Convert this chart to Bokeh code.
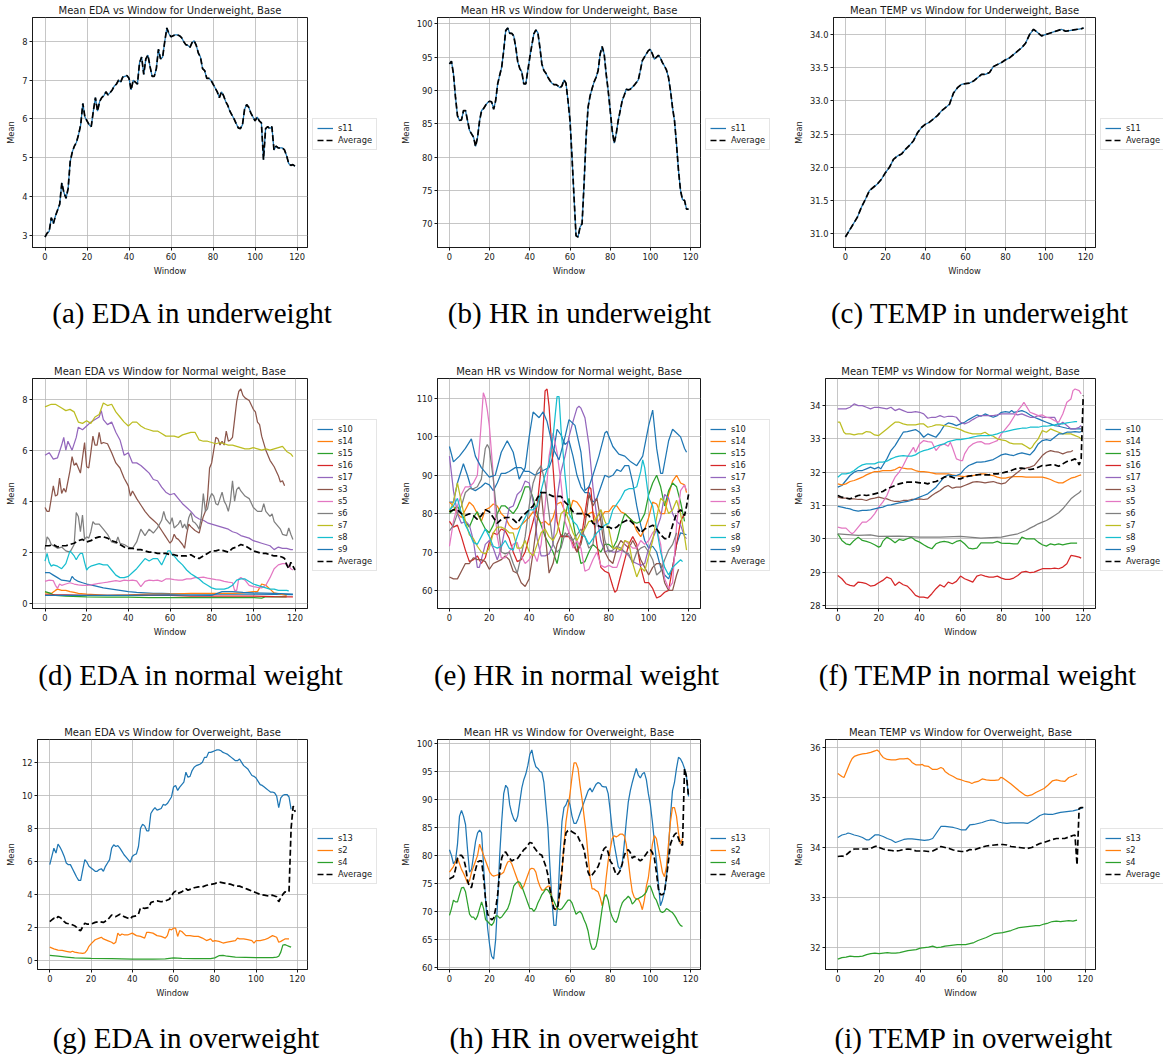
from bokeh.plotting import figure
from bokeh.models import Legend, LegendItem, Range1d, FixedTicker, NumeralTickFormatter, Div
from bokeh.layouts import row, column
from bokeh.embed import file_html
from bokeh.resources import INLINE

TAB10 = ["#1f77b4", "#ff7f0e", "#2ca02c", "#d62728", "#9467bd",
         "#8c564b", "#e377c2", "#7f7f7f", "#bcbd22", "#17becf"]

X_TICKS = [0, 20, 40, 60, 80, 100, 120]
UNDER_SUBJECTS = ["s11"]
NORMAL_SUBJECTS = ["s10", "s14", "s15", "s16", "s17", "s3", "s5", "s6", "s7", "s8", "s9"]
OVER_SUBJECTS = ["s13", "s2", "s4"]

# ---------------- Underweight (s11) ----------------
a_s11 = [2.95, 3.05, 3.1, 3.45, 3.3, 3.5, 3.65, 3.8, 4.35, 4.1,
         3.95, 4.2, 4.9, 5.15, 5.3, 5.4, 5.6, 5.85, 6.4, 6.05,
         5.95, 5.85, 5.8, 6.2, 6.55, 6.2, 6.45, 6.55, 6.6, 6.7,
         6.62, 6.68, 6.75, 6.85, 6.9, 7.0, 6.95, 7.08, 7.1, 7.12,
         7.05, 6.75, 7.0, 6.95, 6.9, 7.45, 7.6, 7.15, 7.55, 7.65,
         7.35, 7.1, 7.1, 7.3, 7.8, 7.55, 7.6, 8.0, 8.35, 8.2,
         8.12, 8.15, 8.17, 8.17, 8.15, 8.1, 8.0, 7.92, 7.9, 7.85,
         7.97, 8.02, 7.9, 7.7, 7.6, 7.3, 7.25, 7.05, 7.05, 7.0,
         6.9, 6.8, 6.7, 6.55, 6.7, 6.6, 6.45, 6.35, 6.2, 6.1,
         6.0, 5.88, 5.77, 5.75, 5.85, 6.25, 6.37, 6.3, 6.15, 6.05,
         5.95, 6.05, 5.95, 5.9, 4.95, 5.75, 5.8, 5.75, 5.8, 5.2,
         5.3, 5.25, 5.25, 5.25, 5.2, 5.05, 4.85, 4.8, 4.82, 4.78]

b_s11 = [94.0, 94.4, 92.5, 89.0, 86.2, 85.5, 85.6, 87.0, 87.0, 85.5,
         84.0, 83.5, 83.0, 81.6, 83.0, 85.5, 87.0, 87.3, 87.8, 88.2,
         88.4, 88.3, 87.2, 88.5, 91.0, 92.3, 93.5, 96.0, 99.0, 99.4,
         98.6, 98.6, 98.2, 96.5, 94.3, 93.3, 92.8, 91.0, 91.0, 93.0,
         95.0, 96.8, 98.5, 99.1, 98.7, 96.5, 94.0, 93.0, 92.6, 92.0,
         91.5, 91.1, 90.9, 90.9, 90.7, 90.4, 90.7, 91.6, 91.1, 88.5,
         85.5, 80.0, 74.0, 68.2, 68.0, 69.5, 70.0, 76.0, 83.0, 87.5,
         89.2, 90.3, 91.3, 92.0, 93.0, 95.5, 96.6, 95.5, 92.5, 90.0,
         87.0, 84.0, 82.1, 83.5, 85.5, 87.0, 88.5, 89.3, 90.2, 90.1,
         90.2, 90.5, 90.8, 91.2, 91.6, 93.0, 94.5, 95.0, 95.5, 96.0,
         96.2, 95.5, 94.7, 95.0, 95.3, 94.9, 94.2, 93.7, 93.1, 92.0,
         90.0, 87.5, 85.5, 82.0, 78.0, 75.0, 73.6, 73.5, 72.2, 72.2]

c_s11 = [(0, 30.95), (2, 31.05), (4, 31.15), (6, 31.25), (8, 31.4), (10, 31.52), (12, 31.65),
         (14, 31.7), (16, 31.75), (18, 31.82), (20, 31.92), (22, 32.0), (24, 32.12), (26, 32.17),
         (28, 32.2), (30, 32.27), (32, 32.33), (34, 32.4), (36, 32.52), (38, 32.6), (40, 32.65),
         (42, 32.68), (44, 32.73), (46, 32.78), (48, 32.85), (50, 32.9), (52, 32.95), (54, 33.12),
         (56, 33.2), (58, 33.25), (60, 33.26), (62, 33.27), (64, 33.3), (66, 33.35), (68, 33.4),
         (70, 33.4), (72, 33.43), (74, 33.52), (76, 33.55), (78, 33.58), (80, 33.62), (82, 33.65),
         (84, 33.7), (86, 33.75), (88, 33.8), (90, 33.87), (92, 34.0), (94, 34.08), (96, 34.03),
         (98, 33.98), (100, 34.0), (102, 34.02), (104, 34.04), (106, 34.06), (108, 34.08),
         (110, 34.05), (112, 34.06), (114, 34.07), (116, 34.08), (118, 34.09), (119, 34.1)]

# ---------------- Normal weight: EDA ----------------
d_s10 = [(0, 1.2), (2, 1.2), (4, 1.1), (6, 1.0), (8, 0.9), (10, 0.88), (12, 0.85), (13, 1.05), (14, 0.95),
         (16, 0.85), (18, 0.8), (20, 0.75), (24, 0.68), (28, 0.6), (32, 0.55), (36, 0.5), (40, 0.45),
         (44, 0.42), (48, 0.4), (52, 0.38), (56, 0.38), (60, 0.37), (70, 0.36), (80, 0.35), (90, 0.35),
         (100, 0.35), (110, 0.34), (119, 0.33)]
d_s14 = [(0, 0.4), (3, 0.38), (5, 0.5), (6, 0.55), (8, 0.5), (10, 0.5), (12, 0.45), (14, 0.42), (16, 0.38),
         (20, 0.35), (30, 0.3), (40, 0.32), (50, 0.35), (60, 0.35), (70, 0.38), (80, 0.38), (90, 0.38),
         (95, 0.4), (100, 0.45), (102, 0.45), (104, 0.75), (106, 0.7), (108, 0.55), (110, 0.4),
         (113, 0.35), (116, 0.3)]
d_s15 = [(0, 0.45), (2, 0.4), (5, 0.3), (10, 0.28), (20, 0.25), (30, 0.24), (40, 0.24), (50, 0.22),
         (60, 0.22), (70, 0.22), (80, 0.22), (90, 0.22), (100, 0.22), (104, 0.2), (106, 0.25),
         (110, 0.25), (116, 0.25)]
d_s16 = [(0, 0.32), (10, 0.32), (20, 0.3), (30, 0.3), (40, 0.3), (50, 0.3), (60, 0.3), (70, 0.28),
         (80, 0.28), (90, 0.28), (100, 0.28), (110, 0.26), (119, 0.25)]
d_s17 = [(0, 5.8), (2, 5.9), (4, 5.65), (6, 5.7), (8, 6.2), (9, 6.5), (10, 6.0), (11, 6.35), (13, 6.0),
         (15, 6.5), (16, 6.9), (18, 6.8), (20, 6.95), (22, 7.1), (24, 7.2), (26, 7.3), (27, 7.55),
         (28, 7.2), (30, 7.0), (32, 7.1), (34, 6.7), (36, 6.4), (38, 5.8), (40, 5.9), (42, 5.5),
         (44, 5.5), (46, 5.4), (48, 5.25), (50, 5.1), (52, 4.85), (54, 4.8), (56, 4.55), (58, 4.35),
         (60, 4.25), (62, 4.3), (64, 4.1), (66, 3.9), (68, 3.75), (70, 3.6), (72, 3.4), (74, 3.3),
         (76, 3.25), (78, 3.15), (80, 3.1), (82, 3.05), (84, 3.0), (86, 2.95), (88, 2.9), (90, 2.8),
         (92, 2.75), (94, 2.65), (96, 2.6), (98, 2.55), (100, 2.45), (102, 2.4), (104, 2.35),
         (106, 2.3), (108, 2.25), (110, 2.1), (112, 2.2), (114, 2.15), (116, 2.15), (118, 2.1), (119, 2.1)]
d_s3 = [(0, 3.75), (1, 3.6), (2, 3.6), (3, 4.1), (4, 4.6), (5, 4.2), (6, 4.25), (7, 4.9), (8, 4.3), (9, 4.5),
        (10, 4.35), (12, 5.2), (13, 5.75), (14, 5.4), (15, 5.5), (17, 5.1), (19, 6.3), (20, 5.35),
        (21, 5.3), (22, 5.9), (23, 6.55), (24, 6.2), (25, 6.2), (26, 6.7), (27, 6.25), (28, 6.3),
        (30, 6.25), (32, 5.9), (34, 5.5), (36, 5.3), (38, 4.9), (40, 4.6), (41, 4.2), (42, 4.4),
        (44, 4.1), (46, 3.85), (48, 3.6), (50, 3.4), (52, 3.25), (54, 3.1), (56, 2.85), (58, 2.6),
        (60, 2.35), (61, 2.45), (62, 2.7), (63, 2.55), (64, 2.5), (66, 2.3), (67, 2.15), (68, 2.7),
        (69, 3.1), (70, 3.0), (72, 2.85), (74, 2.75), (75, 3.1), (76, 3.4), (77, 3.6), (78, 4.1),
        (79, 5.3), (80, 5.5), (81, 6.0), (82, 6.5), (83, 6.45), (84, 6.2), (85, 6.35), (86, 6.2),
        (87, 6.75), (88, 6.35), (89, 6.4), (90, 6.5), (91, 7.2), (92, 7.9), (93, 8.3), (94, 8.4),
        (95, 8.15), (96, 8.05), (98, 7.95), (100, 7.6), (101, 7.5), (102, 7.1), (103, 7.0), (104, 6.55),
        (106, 6.0), (108, 5.6), (110, 5.35), (112, 5.0), (113, 4.75), (114, 4.8), (115, 4.6)]
d_s5 = [(0, 0.85), (2, 0.9), (4, 0.88), (5, 0.7), (6, 0.58), (7, 0.75), (8, 0.7), (10, 0.75), (12, 0.8),
        (14, 0.75), (16, 0.72), (18, 0.7), (20, 0.7), (22, 0.72), (24, 0.75), (26, 0.78), (28, 0.8),
        (30, 0.82), (32, 0.85), (34, 0.88), (36, 0.85), (38, 0.9), (40, 0.88), (42, 0.9), (44, 0.87),
        (46, 0.65), (48, 0.85), (50, 0.9), (52, 0.88), (54, 0.9), (56, 0.85), (58, 0.95), (60, 0.95),
        (62, 0.92), (64, 0.9), (66, 0.9), (68, 0.95), (70, 0.95), (72, 1.0), (74, 1.0), (76, 1.02),
        (78, 0.98), (80, 0.95), (82, 0.92), (84, 0.9), (86, 0.85), (88, 0.82), (90, 0.8), (91, 0.5),
        (92, 0.5), (93, 0.95), (94, 1.0), (96, 0.9), (98, 0.7), (100, 0.65), (102, 0.62), (104, 0.6),
        (106, 0.7), (108, 1.0), (110, 1.35), (112, 1.5), (114, 1.55), (116, 1.55), (118, 1.35), (119, 1.3)]
d_s6 = [(0, 2.1), (1, 2.6), (2, 2.5), (3, 2.3), (4, 2.25), (6, 2.15), (8, 2.2), (10, 2.05), (12, 2.0),
        (14, 2.3), (15, 3.55), (16, 3.4), (17, 2.8), (18, 3.45), (19, 2.5), (20, 2.6), (21, 2.55),
        (22, 2.8), (23, 3.2), (24, 3.1), (26, 3.1), (28, 2.9), (30, 2.7), (32, 2.4), (34, 2.35),
        (35, 2.6), (36, 2.35), (38, 2.3), (40, 2.2), (42, 2.15), (44, 2.4), (46, 2.9), (48, 2.65),
        (50, 2.9), (52, 2.75), (54, 2.95), (56, 3.25), (57, 3.6), (58, 3.3), (60, 3.1), (61, 3.35),
        (62, 2.95), (64, 3.1), (65, 3.25), (66, 2.95), (67, 3.1), (68, 2.9), (69, 3.35), (70, 3.55),
        (71, 3.2), (72, 3.15), (73, 3.05), (74, 2.9), (75, 3.35), (76, 4.3), (77, 3.6), (78, 3.7),
        (79, 4.1), (80, 4.3), (81, 4.2), (82, 3.9), (83, 3.85), (84, 4.1), (85, 4.35), (86, 4.0),
        (87, 3.85), (88, 3.6), (89, 4.0), (90, 4.8), (91, 4.0), (92, 4.45), (93, 4.55), (94, 4.4),
        (96, 4.2), (98, 4.1), (100, 3.75), (102, 3.6), (104, 3.6), (105, 3.9), (106, 3.6), (108, 3.4),
        (109, 3.5), (110, 3.2), (112, 3.0), (113, 2.9), (114, 2.7), (116, 2.65), (117, 2.95),
        (118, 2.7), (119, 2.5)]
d_s7 = [(0, 7.7), (3, 7.8), (5, 7.8), (8, 7.65), (10, 7.55), (12, 7.6), (14, 7.5), (16, 7.1), (18, 7.05),
        (20, 7.15), (22, 7.05), (24, 7.3), (26, 7.4), (28, 7.85), (30, 7.75), (32, 7.8), (34, 7.5),
        (36, 7.3), (38, 7.1), (40, 6.95), (42, 7.1), (44, 7.1), (46, 6.95), (48, 6.85), (50, 6.8),
        (52, 6.75), (54, 6.75), (56, 6.65), (58, 6.55), (60, 6.55), (62, 6.55), (64, 6.5), (66, 6.6),
        (68, 6.65), (70, 6.7), (72, 6.7), (74, 6.4), (76, 6.35), (78, 6.35), (80, 6.3), (82, 6.25),
        (84, 6.3), (86, 6.25), (88, 6.2), (90, 6.2), (92, 6.15), (94, 6.1), (96, 6.05), (98, 6.05),
        (100, 6.1), (102, 6.05), (104, 6.0), (106, 6.05), (108, 6.0), (110, 6.05), (112, 6.1),
        (114, 6.15), (116, 5.95), (118, 5.85), (119, 5.75)]
d_s8 = [(0, 1.65), (1, 1.95), (2, 1.6), (3, 1.45), (4, 1.5), (6, 1.45), (8, 1.35), (10, 1.55), (12, 2.05),
        (13, 1.95), (14, 1.85), (15, 1.7), (16, 1.85), (17, 1.95), (18, 1.95), (19, 1.6), (20, 1.3),
        (21, 1.4), (22, 1.45), (24, 1.5), (26, 1.55), (28, 1.5), (30, 1.5), (32, 1.3), (34, 1.1),
        (36, 1.0), (38, 1.0), (40, 1.05), (42, 1.2), (44, 1.35), (46, 1.55), (48, 1.75), (50, 1.65),
        (52, 1.75), (54, 1.75), (56, 1.5), (58, 1.85), (59, 2.05), (60, 2.05), (61, 1.9), (62, 1.85),
        (64, 1.65), (66, 1.5), (68, 1.3), (70, 1.15), (72, 1.05), (74, 0.95), (76, 0.8), (78, 0.7),
        (80, 0.6), (82, 0.55), (84, 0.55), (86, 0.55), (88, 0.6), (90, 0.7), (92, 0.9), (94, 0.95),
        (96, 0.95), (98, 0.85), (100, 0.75), (102, 0.7), (104, 0.65), (106, 0.6), (108, 0.55),
        (110, 0.55), (112, 0.5), (114, 0.5), (116, 0.5), (117, 0.48)]
d_s9 = [(0, 0.3), (20, 0.3), (40, 0.3), (60, 0.32), (80, 0.3), (85, 0.45), (90, 0.45), (95, 0.42),
        (100, 0.4), (110, 0.38), (119, 0.35)]
d_avg = [(0, 2.25), (2, 2.25), (4, 2.3), (6, 2.2), (8, 2.25), (10, 2.25), (12, 2.3), (14, 2.35), (16, 2.45),
         (18, 2.5), (20, 2.4), (22, 2.45), (24, 2.55), (26, 2.6), (28, 2.6), (30, 2.55), (32, 2.45),
         (34, 2.4), (36, 2.3), (38, 2.2), (40, 2.15), (42, 2.15), (44, 2.1), (46, 2.1), (48, 2.05),
         (50, 2.0), (52, 2.0), (54, 1.95), (56, 1.95), (58, 1.95), (60, 1.9), (62, 1.9), (64, 1.85),
         (66, 1.85), (68, 1.85), (70, 1.9), (72, 1.8), (74, 1.75), (76, 1.85), (78, 1.95), (80, 2.05),
         (82, 2.05), (84, 2.1), (86, 2.05), (88, 2.0), (90, 2.15), (92, 2.2), (94, 2.3), (96, 2.25),
         (98, 2.15), (100, 2.05), (102, 2.0), (104, 1.95), (106, 1.95), (108, 1.9), (110, 1.85),
         (112, 1.85), (114, 1.8), (115, 1.75), (116, 1.5), (117, 1.35), (118, 1.6), (119, 1.45), (120, 1.3)]

# ---------------- Normal weight: HR ----------------
e_s10 = [(0, 83), (2, 83), (4, 88), (7, 93), (9, 90), (11, 86.5), (13, 86), (16, 87), (18, 88), (20, 87.5),
         (22, 86), (24, 88), (26, 90.5), (28, 90.5), (30, 91), (33, 92), (36, 92), (38, 91), (40, 91),
         (43, 90), (46, 91), (48, 91.5), (50, 92), (52, 95), (54, 102), (56, 100.5), (58, 98), (60, 99),
         (62, 95), (64, 90), (66, 87), (68, 85.5), (70, 85.5), (72, 83), (74, 84), (76, 87), (78, 90),
         (80, 89.5), (82, 90), (84, 91.5), (86, 91), (88, 92.5), (90, 92.5), (92, 88), (94, 82), (96, 77),
         (98, 73), (100, 71), (102, 71.5), (104, 70), (106, 66), (108, 64), (110, 63), (112, 66),
         (114, 72), (116, 75), (119, 74.5)]
e_s14 = [(0, 83), (2, 82), (4, 80), (6, 79), (8, 81), (10, 83), (12, 82), (14, 80), (16, 78), (18, 81),
         (20, 81.5), (22, 82.5), (24, 82), (26, 80), (28, 79), (30, 77), (32, 76), (34, 76), (36, 77),
         (38, 78), (40, 79), (42, 80.5), (44, 79), (46, 77.5), (48, 78), (50, 77), (52, 79), (54, 82.5),
         (56, 83), (58, 80.5), (60, 80), (62, 83.5), (64, 83), (66, 81.5), (68, 79), (70, 80), (72, 80.5),
         (74, 77.5), (76, 79), (78, 80.5), (80, 80.5), (82, 82), (84, 82), (86, 80.5), (88, 80), (90, 79),
         (92, 78), (94, 75.5), (96, 74), (98, 76), (100, 79), (102, 83), (104, 82.5), (106, 80), (108, 80),
         (110, 85), (112, 88.5), (114, 90), (116, 88), (118, 87.5), (119, 85.5)]
e_s15 = [(0, 80), (2, 81), (4, 82), (6, 80), (8, 78), (10, 76.5), (12, 79), (14, 80.5), (16, 78), (18, 76),
         (20, 75), (22, 77), (24, 80), (26, 82), (28, 82), (30, 81), (32, 80), (34, 81.5), (36, 84),
         (38, 87), (40, 87), (42, 84), (44, 80), (46, 77), (48, 74), (50, 72), (52, 70), (54, 67),
         (56, 72), (58, 79), (60, 84), (62, 78), (64, 72), (66, 67), (68, 67.5), (70, 70), (72, 72),
         (74, 71), (76, 70), (78, 72), (80, 72), (82, 71), (84, 73), (86, 77), (88, 80), (90, 79), (92, 78),
         (94, 77.5), (96, 78), (98, 80), (100, 85), (102, 88), (104, 90), (106, 87), (108, 82), (110, 86),
         (112, 88), (114, 87), (116, 83), (118, 78)]
e_s16 = [(0, 78), (2, 76.5), (4, 77), (6, 74), (8, 70.5), (10, 67.5), (12, 68), (14, 69), (16, 67),
         (18, 68.5), (20, 72.5), (22, 75), (24, 74.5), (26, 76), (28, 75.5), (30, 73.5), (32, 70),
         (34, 67.5), (36, 68), (38, 70), (40, 74), (42, 78), (44, 82), (46, 92), (48, 112), (49, 112.5),
         (50, 108), (52, 92), (54, 78), (56, 74), (58, 74), (60, 74), (62, 72), (64, 70), (66, 73),
         (68, 80), (70, 87), (71, 86.5), (72, 80), (74, 72), (76, 66), (78, 65), (80, 64.5), (82, 61),
         (83, 59.5), (84, 60), (86, 64), (88, 68), (90, 72), (92, 74), (94, 72), (96, 66), (98, 62),
         (100, 62), (102, 60.5), (104, 58), (106, 58.5), (108, 59.5), (110, 60), (112, 66), (114, 72),
         (116, 78), (118, 80)]
e_s17 = [(0, 95), (2, 86), (4, 80), (6, 77.5), (8, 78), (10, 77), (12, 73), (14, 66), (15, 66), (16, 68),
         (18, 72), (20, 73), (22, 71), (24, 68), (26, 71), (28, 76.5), (30, 81.5), (32, 82), (34, 85),
         (36, 86), (38, 88.5), (40, 88), (42, 83), (44, 73.5), (46, 69), (48, 69), (50, 69.5), (52, 72),
         (54, 84), (56, 91), (58, 95), (60, 100), (62, 104), (64, 107.5), (65, 108), (66, 107.5),
         (68, 105), (70, 98), (72, 87), (74, 79), (76, 73), (78, 70), (80, 70.5), (82, 70), (84, 70),
         (86, 70.5), (88, 70), (90, 69), (92, 67.5), (94, 67), (96, 66.5), (98, 67), (100, 71), (102, 73.5),
         (104, 76), (106, 79), (108, 85), (110, 84), (112, 80), (114, 78), (116, 77), (118, 74), (119, 73.5)]
e_s3 = [(0, 63.5), (2, 63), (4, 63), (6, 65), (8, 67), (10, 67), (12, 68.5), (14, 68), (16, 68), (18, 67.5),
        (20, 65.5), (22, 67), (24, 67.5), (26, 68), (28, 69), (30, 68), (32, 65), (34, 64.5), (36, 62),
        (38, 61), (40, 63), (42, 70), (44, 78), (46, 86), (48, 75), (50, 64.5), (52, 67), (54, 72),
        (56, 74.5), (58, 74), (60, 75), (62, 73), (64, 70), (66, 72), (68, 77), (70, 85), (72, 82),
        (74, 84), (76, 78), (78, 70), (80, 68), (82, 67), (84, 71), (86, 73), (88, 72), (90, 71), (92, 73),
        (94, 71), (96, 68), (98, 66), (100, 64), (102, 66), (104, 67), (106, 67), (108, 62), (110, 60),
        (112, 60), (114, 64), (115, 65.5)]
e_s5 = [(0, 71.5), (2, 78), (4, 82), (6, 85), (8, 87), (10, 87), (12, 88), (14, 90), (16, 104), (17, 111.5),
        (18, 110), (19, 107), (20, 103), (22, 90), (23, 80), (24, 74), (26, 68.5), (28, 68.5), (30, 70),
        (32, 72), (34, 72.5), (36, 69), (38, 67), (40, 68), (42, 70), (44, 67.5), (46, 72), (48, 82),
        (50, 95), (52, 101), (54, 96), (56, 88), (58, 78), (60, 75), (62, 71), (64, 73), (66, 71),
        (68, 65), (70, 65.5), (72, 68), (74, 70), (76, 66.5), (78, 66), (80, 66.5), (82, 66), (84, 66),
        (86, 69), (88, 73), (90, 72), (92, 71), (94, 71), (96, 73), (98, 72), (100, 73), (102, 75),
        (104, 76), (106, 72), (108, 63), (110, 60.5), (112, 62), (114, 77), (116, 86), (118, 87.5), (119, 86)]
e_s6 = [(0, 75.5), (2, 77), (4, 80), (6, 82), (8, 85.5), (10, 86.5), (12, 86.5), (14, 87), (16, 89),
        (18, 97), (19, 98), (20, 97), (22, 89), (24, 79), (26, 70), (28, 69.5), (30, 70), (32, 67),
        (34, 64.5), (36, 69), (38, 74), (40, 82), (42, 88), (44, 91), (46, 92.5), (48, 88), (50, 80),
        (52, 72), (54, 70), (56, 71), (58, 75), (60, 74), (62, 73), (64, 74.5), (66, 76), (68, 74),
        (70, 71), (72, 72), (74, 79), (76, 81), (78, 73), (80, 70), (82, 70.5), (84, 71.5), (86, 71),
        (88, 70), (90, 69.5), (92, 67), (94, 70), (96, 71), (98, 71.5), (100, 70), (102, 68), (104, 64),
        (106, 65), (108, 68), (110, 70.5), (112, 72), (114, 75)]
e_s7 = [(0, 80.5), (2, 83), (4, 88), (6, 83), (8, 78), (10, 74.5), (12, 73.5), (14, 71.5), (16, 70),
        (18, 69.5), (20, 71), (22, 75), (24, 76.5), (26, 76.5), (28, 76), (30, 75), (32, 75), (34, 71),
        (36, 71), (38, 73), (40, 70), (42, 69), (44, 72), (46, 75), (48, 76), (50, 74), (52, 73), (54, 75),
        (56, 80), (58, 81), (60, 78), (62, 75), (64, 73), (66, 75), (68, 76), (70, 78), (72, 78), (74, 79),
        (76, 81), (78, 78), (80, 76), (82, 71), (84, 71), (86, 70.5), (88, 73), (90, 72.5), (92, 67),
        (94, 63.5), (96, 66), (98, 65), (100, 69), (102, 73), (104, 79), (106, 84), (108, 83), (110, 80),
        (112, 81), (114, 83.5), (116, 80), (118, 74), (119, 70.5)]
e_s8 = [(0, 81), (2, 82), (4, 84), (6, 80), (8, 77), (10, 75), (12, 72.5), (14, 72), (16, 74), (18, 76),
        (20, 74), (22, 71.5), (24, 71), (26, 71.5), (28, 73), (30, 71), (32, 70.5), (34, 74), (36, 77),
        (38, 79), (40, 81), (42, 81), (44, 82), (46, 86), (48, 90), (50, 93), (52, 100), (54, 110.5),
        (55, 110.5), (56, 102), (58, 90), (60, 80), (62, 78), (64, 77), (66, 74.5), (68, 74), (70, 72),
        (72, 73.5), (74, 75), (76, 76), (78, 77), (80, 77.5), (82, 81), (84, 82.5), (86, 84), (88, 86),
        (90, 86.5), (92, 86.5), (94, 87), (96, 91), (97, 94), (98, 92), (100, 84), (102, 82), (104, 76),
        (106, 70), (108, 66), (110, 64), (112, 66), (114, 67), (116, 68), (117, 67.5)]
e_s9 = [(0, 97.5), (2, 93.5), (5, 95), (8, 97), (11, 99.5), (13, 95), (16, 92), (20, 89.5), (23, 90),
        (26, 96), (29, 99), (32, 96), (35, 89), (38, 92), (40, 100), (42, 106.5), (45, 105), (47, 106.5),
        (49, 104), (52, 97), (55, 94), (58, 100), (60, 104.5), (63, 103), (66, 96), (68, 86), (70, 87),
        (72, 90), (75, 95), (78, 101), (79, 101.5), (82, 97.5), (85, 95.5), (88, 95), (91, 93.5),
        (94, 92.5), (97, 95), (100, 103), (102, 107), (104, 97), (106, 90.5), (107, 90.5), (110, 99),
        (112, 102), (114, 101), (116, 100), (118, 97), (119, 96)]
e_avg = [(0, 80.5), (2, 81), (4, 81), (6, 80), (8, 79.5), (10, 80), (12, 79.5), (14, 78.5), (16, 79.5),
         (18, 81), (20, 80.5), (22, 79), (24, 77.5), (26, 78.5), (28, 79), (30, 79), (32, 78.5), (34, 77.5),
         (36, 79), (38, 80), (40, 81), (42, 82), (44, 84), (46, 85.5), (48, 85.5), (50, 85), (52, 84.5),
         (54, 84.5), (56, 84.5), (58, 83), (60, 82), (62, 80.5), (64, 80), (66, 80), (68, 80), (70, 79.5),
         (72, 77.5), (74, 77), (76, 76.5), (78, 76.5), (80, 76.5), (82, 76), (84, 76.5), (86, 77.5),
         (88, 78), (90, 78.5), (92, 77.5), (94, 76.5), (96, 75), (98, 76), (100, 76.5), (102, 77),
         (104, 76), (106, 74.5), (108, 73.5), (110, 73.5), (112, 77), (114, 80), (116, 81), (118, 79.5),
         (119, 82), (120, 85)]

# ---------------- Normal weight: TEMP ----------------
f_s10 = [(0, 31.55), (2, 31.6), (4, 31.75), (6, 31.9), (8, 32.0), (10, 32.05), (12, 32.05), (14, 32.1),
         (16, 32.15), (18, 32.1), (20, 32.15), (21, 32.1), (22, 32.2), (24, 32.4), (26, 32.65), (28, 32.8),
         (30, 33.0), (32, 33.2), (34, 33.22), (36, 33.25), (38, 33.28), (40, 33.2), (42, 33.05),
         (44, 33.15), (46, 33.1), (48, 33.05), (50, 33.2), (52, 33.4), (54, 33.48), (56, 33.45),
         (58, 33.4), (60, 33.45), (62, 33.5), (64, 33.58), (66, 33.65), (68, 33.72), (70, 33.68),
         (72, 33.75), (74, 33.7), (76, 33.65), (78, 33.7), (80, 33.8), (82, 33.82), (84, 33.8),
         (85, 33.85), (86, 33.8), (88, 33.82), (90, 33.85), (92, 33.8), (94, 33.72), (96, 33.65),
         (98, 33.6), (100, 33.55), (102, 33.5), (104, 33.45), (106, 33.4), (108, 33.38), (110, 33.35),
         (112, 33.32), (114, 33.3), (116, 33.3), (118, 33.3), (119, 33.3)]
f_s14 = [(0, 31.65), (2, 31.62), (4, 31.65), (6, 31.72), (8, 31.75), (10, 31.8), (12, 31.85), (14, 31.92),
         (16, 31.97), (18, 32.02), (20, 32.02), (22, 32.05), (24, 32.05), (26, 32.05), (28, 32.08),
         (30, 32.15), (32, 32.12), (34, 32.1), (36, 32.1), (38, 32.05), (40, 32.02), (42, 32.02),
         (44, 32.0), (46, 31.98), (48, 31.95), (50, 31.95), (52, 31.95), (54, 31.95), (56, 31.92),
         (58, 31.9), (60, 31.88), (62, 31.87), (64, 31.9), (66, 31.9), (68, 31.92), (70, 31.95),
         (72, 31.95), (74, 31.92), (76, 31.9), (78, 31.85), (80, 31.82), (82, 31.82), (84, 31.85),
         (86, 31.87), (88, 31.87), (90, 31.87), (92, 31.85), (94, 31.85), (96, 31.85), (98, 31.85),
         (100, 31.85), (102, 31.82), (104, 31.78), (106, 31.72), (108, 31.68), (110, 31.68),
         (112, 31.75), (114, 31.82), (116, 31.85), (118, 31.9), (119, 31.92)]
f_s15 = [(0, 30.15), (2, 29.95), (4, 29.85), (6, 29.82), (8, 29.95), (10, 30.05), (12, 29.95), (14, 29.92),
         (16, 29.88), (18, 29.82), (20, 29.75), (21, 29.78), (22, 29.92), (24, 30.05), (26, 29.98),
         (28, 29.88), (30, 29.98), (32, 29.95), (34, 30.0), (36, 30.05), (38, 29.95), (40, 29.9),
         (42, 29.82), (44, 29.75), (46, 29.7), (48, 29.85), (50, 29.9), (52, 29.92), (54, 29.9),
         (56, 29.85), (58, 29.92), (60, 29.95), (62, 29.85), (64, 29.72), (66, 29.7), (68, 29.72),
         (70, 29.88), (72, 29.88), (74, 29.88), (76, 29.88), (78, 29.92), (80, 29.87), (82, 29.86),
         (84, 29.86), (86, 29.85), (88, 29.85), (90, 30.05), (92, 30.0), (94, 30.0), (96, 30.0),
         (98, 29.9), (100, 29.82), (102, 29.78), (104, 29.85), (106, 29.82), (108, 29.85), (110, 29.82),
         (112, 29.85), (114, 29.87), (116, 29.87), (117, 29.87)]
f_s16 = [(0, 28.9), (2, 28.8), (4, 28.65), (6, 28.6), (8, 28.58), (10, 28.7), (12, 28.68), (14, 28.65),
         (16, 28.58), (18, 28.6), (20, 28.68), (22, 28.75), (24, 28.85), (26, 28.8), (28, 28.6), (30, 28.7),
         (32, 28.62), (34, 28.58), (36, 28.45), (38, 28.3), (40, 28.25), (42, 28.25), (44, 28.22),
         (46, 28.35), (48, 28.5), (50, 28.62), (52, 28.55), (54, 28.7), (56, 28.65), (58, 28.72),
         (60, 28.88), (62, 28.8), (64, 28.75), (66, 28.7), (68, 28.88), (70, 28.92), (72, 28.88),
         (74, 28.85), (76, 28.85), (78, 28.88), (80, 28.82), (82, 28.78), (84, 28.78), (86, 28.82),
         (88, 28.9), (90, 29.0), (92, 29.02), (94, 28.98), (96, 29.0), (98, 29.05), (100, 29.1),
         (102, 29.1), (104, 29.1), (106, 29.12), (108, 29.1), (110, 29.15), (112, 29.25), (114, 29.5),
         (116, 29.48), (118, 29.45), (119, 29.42)]
f_s17 = [(0, 33.9), (4, 33.9), (6, 33.95), (8, 34.05), (10, 34.0), (12, 34.0), (14, 33.95), (16, 33.9),
         (18, 33.95), (20, 33.95), (24, 33.9), (26, 33.95), (28, 33.85), (30, 33.9), (32, 33.85),
         (34, 33.8), (36, 33.8), (38, 33.82), (40, 33.8), (42, 33.75), (44, 33.62), (46, 33.65),
         (48, 33.65), (50, 33.7), (52, 33.65), (54, 33.68), (56, 33.68), (58, 33.65), (60, 33.5),
         (62, 33.45), (64, 33.5), (66, 33.58), (68, 33.65), (70, 33.7), (72, 33.7), (74, 33.7),
         (76, 33.7), (78, 33.72), (80, 33.75), (82, 33.75), (84, 33.75), (86, 33.75), (88, 33.72),
         (90, 33.75), (92, 33.7), (94, 33.65), (96, 33.65), (98, 33.7), (100, 33.65), (102, 33.65),
         (104, 33.65), (106, 33.65), (108, 33.4), (110, 33.5), (112, 33.4), (114, 33.3), (116, 33.3),
         (118, 33.35), (119, 33.4)]
f_s3 = [(0, 31.25), (2, 31.22), (4, 31.22), (6, 31.2), (8, 31.2), (10, 31.18), (12, 31.18), (14, 31.15),
        (16, 31.2), (18, 31.22), (20, 31.25), (22, 31.22), (24, 31.2), (26, 31.15), (28, 31.12),
        (30, 31.12), (32, 31.15), (34, 31.15), (36, 31.18), (38, 31.18), (40, 31.2), (42, 31.18),
        (44, 31.2), (46, 31.3), (48, 31.38), (50, 31.45), (52, 31.55), (54, 31.6), (56, 31.52),
        (58, 31.55), (60, 31.55), (62, 31.6), (64, 31.65), (66, 31.7), (68, 31.72), (70, 31.7),
        (72, 31.68), (74, 31.7), (76, 31.72), (78, 31.68), (80, 31.65), (82, 31.68), (84, 31.8),
        (86, 31.9), (88, 32.0), (90, 32.1), (92, 32.12), (94, 32.15), (96, 32.2), (98, 32.35),
        (100, 32.5), (102, 32.6), (104, 32.65), (106, 32.62), (108, 32.6), (110, 32.55), (112, 32.6),
        (114, 32.62), (115, 32.65)]
f_s5 = [(0, 30.35), (2, 30.32), (4, 30.32), (6, 30.2), (7, 30.15), (8, 30.2), (10, 30.35), (12, 30.5),
        (14, 30.5), (16, 30.6), (18, 30.75), (20, 30.95), (22, 31.1), (24, 31.3), (26, 31.6), (28, 31.85),
        (30, 32.0), (32, 32.2), (34, 32.45), (36, 32.65), (37, 32.75), (38, 32.6), (40, 32.85),
        (42, 32.95), (44, 32.92), (46, 32.9), (48, 32.65), (50, 32.8), (52, 32.85), (54, 32.78),
        (55, 32.9), (56, 32.75), (58, 32.4), (60, 32.35), (61, 32.35), (62, 32.55), (64, 32.75),
        (66, 32.85), (68, 32.9), (70, 32.92), (72, 32.85), (74, 32.85), (76, 32.9), (78, 32.95),
        (80, 33.15), (82, 33.3), (84, 33.45), (86, 33.65), (88, 33.85), (90, 34.0), (91, 34.1),
        (92, 34.0), (94, 33.8), (96, 33.75), (98, 33.7), (100, 33.72), (102, 33.65), (104, 33.62),
        (106, 33.55), (108, 33.5), (110, 33.75), (112, 34.1), (114, 34.2), (115, 34.45), (116, 34.5),
        (118, 34.45), (119, 34.35)]
f_s6 = [(0, 30.15), (10, 30.1), (16, 30.12), (20, 30.07), (30, 30.08), (40, 30.05), (50, 30.05),
        (60, 30.07), (70, 30.02), (80, 30.05), (84, 30.1), (88, 30.15), (92, 30.25), (94, 30.32),
        (96, 30.38), (98, 30.45), (100, 30.5), (102, 30.55), (104, 30.62), (106, 30.7), (108, 30.78),
        (110, 30.9), (112, 31.05), (114, 31.2), (116, 31.3), (118, 31.38), (119, 31.45)]
f_s7 = [(0, 33.5), (1, 33.5), (2, 33.35), (3, 33.2), (4, 33.15), (6, 33.15), (8, 33.12), (10, 33.15),
        (12, 33.15), (14, 33.22), (16, 33.2), (18, 33.12), (20, 33.1), (22, 33.2), (24, 33.3), (26, 33.4),
        (28, 33.5), (30, 33.5), (32, 33.45), (34, 33.42), (36, 33.42), (38, 33.42), (40, 33.45),
        (42, 33.45), (44, 33.35), (46, 33.38), (48, 33.42), (50, 33.42), (52, 33.4), (54, 33.38),
        (56, 33.35), (58, 33.32), (60, 33.28), (62, 33.22), (64, 33.18), (66, 33.15), (68, 33.15),
        (70, 33.15), (72, 33.2), (74, 33.12), (76, 33.08), (78, 33.0), (80, 32.97), (82, 32.95),
        (84, 32.88), (86, 32.85), (88, 32.85), (90, 32.85), (92, 32.78), (94, 32.7), (95, 32.75),
        (96, 32.85), (98, 33.0), (100, 33.25), (102, 33.2), (104, 33.3), (106, 33.25), (108, 33.2),
        (110, 33.15), (112, 33.15), (114, 33.15), (116, 33.1), (118, 33.05), (119, 33.0)]
f_s8 = [(0, 31.85), (2, 31.95), (4, 31.95), (6, 31.98), (8, 32.05), (10, 32.15), (12, 32.22), (14, 32.25),
        (16, 32.25), (18, 32.25), (20, 32.3), (22, 32.3), (24, 32.33), (26, 32.4), (28, 32.45),
        (30, 32.48), (32, 32.5), (34, 32.48), (36, 32.48), (38, 32.52), (40, 32.6), (42, 32.65),
        (44, 32.68), (46, 32.72), (48, 32.78), (50, 32.82), (52, 32.85), (54, 32.92), (56, 32.95),
        (58, 32.98), (60, 32.98), (62, 33.0), (64, 33.02), (66, 33.05), (68, 33.08), (70, 33.1),
        (72, 33.1), (74, 33.1), (76, 33.12), (78, 33.15), (80, 33.2), (82, 33.22), (84, 33.25),
        (86, 33.28), (88, 33.3), (90, 33.32), (92, 33.32), (94, 33.35), (96, 33.35), (98, 33.35),
        (100, 33.38), (102, 33.38), (104, 33.4), (106, 33.42), (108, 33.45), (110, 33.45), (112, 33.48),
        (114, 33.5), (116, 33.52), (117, 33.52)]
f_s9 = [(0, 30.97), (2, 30.95), (4, 30.92), (6, 30.9), (8, 30.85), (10, 30.83), (12, 30.85), (14, 30.85),
        (16, 30.87), (18, 30.9), (20, 30.93), (22, 30.95), (24, 31.0), (26, 31.02), (28, 31.05),
        (30, 31.08), (32, 31.1), (34, 31.12), (36, 31.15), (38, 31.2), (40, 31.25), (42, 31.3),
        (44, 31.35), (46, 31.45), (48, 31.55), (50, 31.7), (52, 31.85), (54, 31.92), (56, 31.9),
        (58, 31.9), (60, 31.95), (62, 32.1), (64, 32.2), (66, 32.25), (68, 32.3), (70, 32.3),
        (72, 32.32), (74, 32.35), (76, 32.38), (78, 32.45), (80, 32.52), (82, 32.55), (84, 32.52),
        (86, 32.5), (88, 32.55), (90, 32.58), (92, 32.55), (94, 32.52), (96, 32.65), (98, 32.85),
        (100, 32.95), (102, 32.98), (104, 32.95), (106, 33.05), (108, 33.15), (110, 33.15), (112, 33.2),
        (114, 33.2), (116, 33.22), (118, 33.2), (119, 33.22)]
f_avg = [(0, 31.3), (2, 31.25), (4, 31.22), (6, 31.2), (8, 31.25), (10, 31.3), (12, 31.32), (14, 31.3),
         (16, 31.32), (18, 31.35), (20, 31.38), (22, 31.42), (24, 31.5), (26, 31.55), (28, 31.6),
         (30, 31.65), (32, 31.68), (34, 31.7), (36, 31.7), (38, 31.7), (40, 31.68), (42, 31.68),
         (44, 31.65), (46, 31.7), (48, 31.72), (50, 31.78), (52, 31.85), (54, 31.88), (56, 31.85),
         (58, 31.8), (60, 31.8), (62, 31.85), (64, 31.88), (66, 31.9), (68, 31.92), (70, 31.93),
         (72, 31.92), (74, 31.92), (76, 31.95), (78, 31.95), (80, 31.97), (82, 32.0), (84, 32.03),
         (86, 32.08), (88, 32.12), (90, 32.12), (92, 32.1), (94, 32.08), (96, 32.1), (98, 32.15),
         (100, 32.2), (102, 32.2), (104, 32.22), (106, 32.22), (108, 32.18), (110, 32.25), (112, 32.32),
         (114, 32.35), (116, 32.4), (117, 32.35), (118, 32.22), (119, 32.4), (120, 34.3)]

# ---------------- Overweight ----------------
g_s13 = [5.8, 6.3, 6.8, 6.5, 7.05, 6.85, 6.6, 6.3, 5.9, 5.8,
         5.8, 5.55, 5.3, 5.05, 4.85, 4.85, 5.5, 6.1, 5.95, 5.7,
         5.6, 5.5, 5.4, 5.4, 5.5, 5.55, 5.4, 5.7, 5.9, 6.1,
         6.8, 7.0, 6.9, 6.95, 6.8, 6.6, 6.4, 6.25, 6.1, 5.95,
         6.3, 6.4, 6.45, 6.9, 8.0, 8.25, 8.15, 7.85, 7.85, 8.9,
         9.1, 9.25, 9.1, 9.15, 9.2, 9.45, 9.4, 9.5, 9.7, 9.9,
         10.5, 10.6, 10.3, 10.5, 10.65, 10.8, 11.4, 11.1, 11.15, 11.5,
         11.7, 11.8, 11.85, 11.9, 12.0, 12.3, 12.3, 12.6, 12.6, 12.65,
         12.7, 12.75, 12.75, 12.7, 12.6, 12.55, 12.5, 12.4, 12.3, 12.2,
         12.1, 12.1, 12.2, 12.0, 11.8, 11.7, 11.6, 11.4, 11.2, 11.15,
         11.05, 10.85, 10.65, 10.6, 10.5, 10.4, 10.3, 10.2, 10.2, 10.15,
         9.95, 9.25, 9.85, 10.0, 10.05, 10.05, 9.9, 9.15]
g_s2 = [(0, 0.8), (2, 0.7), (4, 0.62), (6, 0.6), (8, 0.55), (10, 0.5), (11, 0.55), (12, 0.5), (14, 0.45),
        (16, 0.42), (17, 0.45), (18, 0.6), (19, 0.85), (20, 1.0), (22, 1.25), (24, 1.35), (25, 1.4),
        (26, 1.3), (28, 1.2), (30, 1.1), (31, 1.0), (32, 1.1), (33, 1.65), (34, 1.5), (35, 1.6),
        (36, 1.55), (38, 1.55), (40, 1.65), (42, 1.5), (44, 1.45), (46, 1.35), (47, 1.7), (48, 1.7),
        (50, 1.65), (52, 1.5), (54, 1.45), (56, 1.35), (57, 1.5), (58, 1.9), (59, 1.85), (60, 1.95),
        (61, 1.95), (62, 1.45), (63, 1.8), (64, 1.75), (66, 1.5), (68, 1.5), (70, 1.45), (72, 1.45),
        (74, 1.35), (76, 1.2), (78, 1.3), (79, 1.15), (80, 1.2), (82, 1.15), (84, 1.05), (86, 1.1),
        (88, 1.15), (90, 1.2), (91, 1.35), (92, 1.3), (94, 1.3), (96, 1.25), (98, 1.2), (99, 1.05),
        (100, 1.2), (102, 1.2), (104, 1.25), (106, 1.35), (108, 1.5), (110, 1.4), (111, 1.1),
        (112, 1.15), (114, 1.3), (116, 1.3)]
g_s4 = [(0, 0.3), (4, 0.25), (8, 0.2), (12, 0.15), (20, 0.12), (30, 0.1), (40, 0.08), (50, 0.08),
        (56, 0.09), (60, 0.15), (64, 0.12), (70, 0.1), (78, 0.1), (80, 0.15), (82, 0.28), (84, 0.3),
        (86, 0.25), (90, 0.2), (100, 0.17), (108, 0.17), (110, 0.2), (111, 0.25), (112, 0.5),
        (113, 0.92), (114, 0.95), (115, 0.9), (116, 0.85), (117, 0.8)]
g_avg = [(0, 2.35), (1, 2.45), (2, 2.55), (3, 2.5), (4, 2.65), (5, 2.6), (6, 2.5), (7, 2.35), (8, 2.25),
         (10, 2.2), (12, 2.1), (13, 2.0), (14, 1.85), (15, 1.8), (16, 2.05), (17, 2.25), (18, 2.2),
         (20, 2.2), (22, 2.3), (24, 2.35), (26, 2.3), (28, 2.45), (30, 2.75), (31, 2.7), (32, 2.65),
         (34, 2.8), (36, 2.65), (38, 2.55), (39, 2.5), (40, 2.65), (42, 2.7), (43, 2.8), (44, 3.2),
         (46, 3.15), (48, 3.2), (49, 3.5), (50, 3.55), (52, 3.6), (54, 3.55), (56, 3.6), (58, 3.7),
         (60, 4.1), (61, 4.2), (62, 4.05), (64, 4.15), (66, 4.35), (67, 4.25), (68, 4.3), (70, 4.4),
         (72, 4.45), (74, 4.45), (76, 4.55), (78, 4.6), (80, 4.65), (82, 4.75), (84, 4.7), (86, 4.65),
         (88, 4.6), (90, 4.5), (92, 4.5), (94, 4.4), (96, 4.3), (98, 4.2), (100, 4.1), (102, 4.0),
         (104, 3.95), (106, 3.9), (108, 3.95), (110, 3.85), (111, 3.55), (112, 3.8), (113, 4.0),
         (114, 4.15), (115, 4.1), (116, 4.2), (117, 8.0), (118, 9.35), (119, 9.0)]

h_s13 = [81, 80, 78.5, 79, 82, 87, 88, 87, 85.5, 81,
         77, 77.5, 80, 82.5, 84, 84.5, 84, 78, 72, 67,
         64, 62, 61.5, 65, 72, 80, 86, 91, 92.5, 92,
         89, 87.5, 86.5, 86, 87, 89.5, 92, 93.5, 94.5, 96,
         98, 98.8, 97, 95.8, 95.5, 95, 94.8, 93, 89, 85,
         78, 72, 67.5, 67.5, 72, 80, 86, 88.5, 89, 90,
         89, 87, 85.7, 85.7, 86.5, 87.5, 88.5, 89.5, 90.5, 91.5,
         92, 91.3, 92, 92.7, 93, 92.8, 92.3, 92.2, 92.2, 91,
         88, 84.5, 82, 80, 78, 77.5, 78.5, 82, 86, 89.5,
         91.5, 93, 94.3, 95.5, 94.3, 93.8, 94.5, 94.8, 93.5, 91,
         89, 86, 82.5, 79, 75, 71, 72, 73.5, 76, 81,
         87, 91.5, 93, 95.5, 97.5, 97.2, 96.5, 95.5, 94, 90.5]
h_s2 = [77, 77.5, 78, 78.8, 79.5, 78.5, 77.5, 76.8, 76, 75,
        75.5, 77, 78, 79, 80, 82, 81, 80, 79, 78,
        77, 76.5, 76.3, 76.4, 76.5, 76.6, 76.7, 77, 78, 78.8,
        79, 78.5, 77.5, 76.5, 75.5, 74.5, 74, 74.5, 75.5, 76.5,
        77.5, 77.7, 77.6, 77, 75.5, 74.5, 73.8, 73.8, 74.2, 74.5,
        74.5, 72, 70.5, 70.3, 71, 73, 77, 82, 86, 88.5,
        91, 94, 96.5, 96.5, 95.5, 92.5, 90, 87, 84, 80,
        76, 74, 74, 73.7, 73.5, 72.5, 71, 72.5, 76, 79,
        81, 83, 83.5, 83.3, 83.5, 83.8, 83.8, 83.5, 82, 79,
        76, 73.5, 72.5, 72.2, 72.2, 71.5, 70.3, 72, 74.5, 76,
        79, 82, 83.5, 83, 81, 79, 77, 76.2, 78, 82,
        86, 88.5, 88.5, 87, 84, 82, 83]
h_s4 = [69.3, 70.5, 72, 71.7, 71.7, 73, 74.2, 74.3, 73.5, 71.5,
        69.5, 69, 69, 68.5, 69.2, 70.5, 71.7, 70.5, 68.5, 68.2,
        67.8, 67.5, 68, 69.2, 69.2, 68.8, 69, 69.5, 70, 70.5,
        71.5, 73, 74.5, 75, 75.3, 75.2, 74.5, 73.5, 72.5, 71.5,
        70.5, 70.5, 70, 70.5, 71.5, 72.2, 73, 73.5, 74, 73.8,
        73.2, 72.5, 71.8, 71, 70.5, 70.3, 70.5, 71, 71.5, 72,
        72, 71.5, 70.5, 69.5, 69.8, 70, 69.5, 68.5, 67.7, 66.5,
        64.5, 63.3, 63.2, 63.8, 65.5, 68, 70.5, 72.5, 73, 72,
        70, 69, 68.3, 68, 69, 70.5, 71.5, 72, 72.3, 72.7,
        72.3, 71.3, 71.7, 72.2, 72.3, 72.5, 72.7, 73, 73.5, 74.5,
        74.5, 73.5, 72.5, 72, 71, 70, 69.8, 70, 70.5, 70.3,
        70, 69.8, 69.3, 68.7, 68, 67.5, 67.3]
h_avg = [75.8, 76, 76.2, 77.5, 79.5, 80, 80, 79.5, 78, 75.5,
         74.3, 74.3, 76, 77.5, 78.8, 79, 79, 76, 72, 69.5,
         69, 68.5, 68.8, 70.5, 73, 77, 79.5, 80.5, 80.6, 80,
         79.5, 79, 79.2, 79.2, 79.5, 80, 80.5, 81, 81.3, 81.8,
         82.3, 82.2, 81.5, 81, 80.5, 80.2, 80, 79, 78, 76.5,
         74, 72, 70.5, 70.3, 71, 74, 77.5, 81.5, 84, 84.4,
         84.5, 84.2, 84, 83.8, 83.3, 82.5, 82, 81, 79, 77,
         76.2, 76.5, 77, 77.5, 78, 79, 80.5, 81.2, 81.5, 80.5,
         79, 78.5, 77.5, 76.5, 76.7, 77.3, 78.5, 80, 80.8, 81,
         80.5, 79.5, 79.8, 79.5, 79.3, 79, 79.3, 79.8, 80.3, 80.8,
         81, 80.5, 79.5, 77, 74, 73, 73, 73.3, 76, 79,
         82, 83, 83.7, 84, 83, 82, 81.8, 95.5, 94, 90.5]

i_s13 = [(0, 34.2), (2, 34.25), (4, 34.27), (5, 34.29), (6, 34.28), (8, 34.25), (10, 34.23), (12, 34.2),
         (14, 34.15), (15, 34.15), (16, 34.18), (18, 34.25), (20, 34.25), (22, 34.22), (24, 34.18),
         (26, 34.15), (28, 34.1), (30, 34.13), (32, 34.16), (34, 34.17), (36, 34.17), (38, 34.16),
         (40, 34.15), (42, 34.14), (44, 34.15), (46, 34.18), (48, 34.3), (50, 34.42), (52, 34.42),
         (54, 34.41), (56, 34.4), (58, 34.38), (60, 34.35), (62, 34.35), (64, 34.45), (66, 34.46),
         (68, 34.48), (70, 34.5), (72, 34.53), (74, 34.55), (76, 34.54), (78, 34.51), (80, 34.49),
         (82, 34.48), (84, 34.49), (86, 34.49), (88, 34.49), (90, 34.49), (92, 34.48), (94, 34.53),
         (96, 34.58), (98, 34.64), (100, 34.67), (102, 34.66), (104, 34.66), (106, 34.68), (108, 34.7),
         (110, 34.71), (112, 34.72), (114, 34.73), (116, 34.75), (118, 34.78), (119, 34.8)]
i_s2 = [(0, 35.48), (1, 35.45), (2, 35.42), (3, 35.4), (4, 35.5), (5, 35.6), (6, 35.7), (7, 35.78),
        (8, 35.82), (10, 35.85), (12, 35.87), (14, 35.88), (16, 35.9), (18, 35.93), (19, 35.95),
        (20, 35.92), (21, 35.85), (22, 35.8), (24, 35.76), (26, 35.75), (28, 35.75), (30, 35.77),
        (32, 35.77), (34, 35.78), (35, 35.75), (36, 35.7), (38, 35.65), (40, 35.65), (41, 35.66),
        (42, 35.63), (44, 35.62), (46, 35.56), (48, 35.56), (50, 35.6), (51, 35.58), (52, 35.52),
        (54, 35.46), (56, 35.42), (58, 35.37), (60, 35.35), (62, 35.32), (64, 35.3), (65, 35.28),
        (66, 35.3), (68, 35.32), (70, 35.37), (72, 35.35), (74, 35.34), (76, 35.34), (78, 35.35),
        (79, 35.4), (80, 35.39), (82, 35.33), (84, 35.27), (86, 35.2), (88, 35.13), (90, 35.07),
        (91, 35.04), (92, 35.03), (94, 35.05), (96, 35.1), (98, 35.14), (100, 35.18), (102, 35.25),
        (104, 35.33), (106, 35.35), (108, 35.33), (110, 35.32), (112, 35.4), (114, 35.43), (116, 35.47)]
i_s4 = [(0, 31.77), (2, 31.8), (4, 31.81), (6, 31.83), (8, 31.82), (10, 31.82), (12, 31.83), (14, 31.86),
        (16, 31.88), (18, 31.89), (20, 31.88), (22, 31.89), (24, 31.9), (26, 31.89), (28, 31.89),
        (30, 31.9), (32, 31.92), (34, 31.94), (36, 31.95), (38, 31.96), (40, 31.99), (42, 32.0),
        (44, 32.01), (46, 32.03), (48, 32.0), (50, 32.01), (52, 32.03), (54, 32.04), (56, 32.05),
        (58, 32.06), (60, 32.06), (62, 32.06), (64, 32.08), (66, 32.1), (68, 32.14), (70, 32.17),
        (72, 32.2), (74, 32.24), (76, 32.28), (78, 32.29), (80, 32.3), (82, 32.32), (84, 32.34),
        (86, 32.37), (88, 32.4), (90, 32.41), (92, 32.42), (94, 32.43), (96, 32.44), (98, 32.44),
        (100, 32.47), (102, 32.49), (104, 32.52), (106, 32.53), (108, 32.52), (110, 32.53),
        (112, 32.54), (114, 32.53), (116, 32.55)]
i_avg = [(0, 33.82), (2, 33.83), (3, 33.82), (4, 33.85), (6, 33.92), (8, 33.97), (10, 33.97), (12, 33.97),
         (14, 33.97), (16, 33.98), (18, 34.02), (19, 34.03), (20, 34.0), (22, 33.97), (24, 33.95),
         (26, 33.94), (28, 33.93), (30, 33.94), (32, 33.96), (34, 33.97), (36, 33.96), (38, 33.93),
         (40, 33.93), (42, 33.93), (44, 33.92), (46, 33.93), (48, 33.97), (50, 34.02), (52, 34.0),
         (54, 33.98), (56, 33.95), (58, 33.93), (60, 33.92), (62, 33.92), (64, 33.96), (66, 33.95),
         (68, 33.98), (70, 34.01), (72, 34.03), (74, 34.04), (76, 34.05), (78, 34.06), (80, 34.06),
         (82, 34.05), (84, 34.02), (86, 34.01), (88, 34.0), (90, 33.99), (92, 33.98), (94, 34.0),
         (96, 34.04), (98, 34.08), (100, 34.1), (102, 34.13), (104, 34.16), (106, 34.18), (108, 34.18),
         (110, 34.18), (112, 34.21), (114, 34.24), (115, 34.25), (116, 33.65), (117, 34.78),
         (118, 34.8), (119, 34.8)]

A_TICKS = [3, 4, 5, 6, 7, 8]
B_TICKS = [70, 75, 80, 85, 90, 95, 100]
C_TICKS = [31.0, 31.5, 32.0, 32.5, 33.0, 33.5, 34.0]
D_TICKS = [0, 2, 4, 6, 8]
E_TICKS = [60, 70, 80, 90, 100, 110]
F_TICKS = [28, 29, 30, 31, 32, 33, 34]
G_TICKS = [0, 2, 4, 6, 8, 10, 12]
H_TICKS = [60, 65, 70, 75, 80, 85, 90, 95, 100]
I_TICKS = [32, 33, 34, 35, 36]


def seq(values):
    return list(zip(range(len(values)), values))


FONT = "DejaVu Sans"
SMALL = "8.3px"
FRAME_H = 233
TOP = 17
BOTTOM = 28
FIG_H = TOP + FRAME_H + BOTTOM
ITEM_H = 10
ITEM_GAP = 2
LEG_PAD = 4
RB = 4
LEG_SHIFT = 32  # the legend canvas measures its offsets from a frame that sits this much higher
NAN = float("nan")


def make_panel(title, names, series, avg, yticks, yfmt, left, fw, legend_w):
    allx = [x for s in series + [avg] for x, _ in s]
    ally = [y for s in series + [avg] for _, y in s]
    x0, x1 = min(allx), max(allx)
    y0, y1 = min(ally), max(ally)
    dx, dy = (x1 - x0) * 0.05, (y1 - y0) * 0.05
    p = figure(width=left + fw + RB, height=FIG_H,
               min_border_left=left, min_border_right=RB,
               min_border_top=TOP, min_border_bottom=BOTTOM,
               x_range=Range1d(x0 - dx, x1 + dx), y_range=Range1d(y0 - dy, y1 + dy),
               output_backend="svg", toolbar_location=None, title=title)
    p.title.align = "center"
    p.title.text_font = FONT
    p.title.text_font_size = "10px"
    p.title.text_font_style = "normal"
    p.title.text_color = "#1a1a1a"
    p.title.standoff = 3
    p.xaxis.ticker = FixedTicker(ticks=X_TICKS)
    p.yaxis.ticker = FixedTicker(ticks=yticks)
    p.xgrid.ticker = p.xaxis[0].ticker
    p.ygrid.ticker = p.yaxis[0].ticker
    if yfmt:
        p.yaxis.formatter = NumeralTickFormatter(format=yfmt)
    p.xaxis.axis_label = "Window"
    p.yaxis.axis_label = "Mean"
    for ax in (p.xaxis[0], p.yaxis[0]):
        ax.axis_label_text_font = FONT
        ax.axis_label_text_font_size = SMALL
        ax.axis_label_text_font_style = "normal"
        ax.axis_label_text_color = "#1a1a1a"
        ax.axis_label_standoff = 3
        ax.major_label_text_font = FONT
        ax.major_label_text_font_size = SMALL
        ax.major_label_text_color = "#1a1a1a"
        ax.major_label_standoff = 2
        ax.major_tick_out = 3
        ax.major_tick_in = 0
        ax.major_tick_line_color = "#1a1a1a"
        ax.minor_tick_line_color = None
        ax.axis_line_color = "#1a1a1a"
    for g in (p.xgrid[0], p.ygrid[0]):
        g.grid_line_color = "#b8b8b8"
        g.grid_line_width = 0.8
    p.outline_line_color = "#1a1a1a"
    p.outline_line_alpha = 1
    p.outline_line_width = 1
    p.background_fill_color = "white"

    # separate small canvas that carries the legend, right of the frame
    lf = figure(width=legend_w, height=FIG_H, min_border=0,
                x_axis_type=None, y_axis_type=None,
                x_range=Range1d(0, 1), y_range=Range1d(0, 1),
                output_backend="svg", toolbar_location=None)
    lf.outline_line_color = None
    lf.background_fill_color = "white"
    items = []
    for k, (name, s) in enumerate(zip(names, series)):
        xs, ys = zip(*s)
        p.line(list(xs), list(ys), line_color=TAB10[k % 10], line_width=1.25)
        proxy = lf.line(x=[NAN], y=[NAN], line_color=TAB10[k % 10], line_width=1.25)
        items.append(LegendItem(label=name, renderers=[proxy]))
    xs, ys = zip(*avg)
    p.line(list(xs), list(ys), line_color="black", line_width=1.7, line_dash="6 3")
    proxy = lf.line(x=[NAN], y=[NAN], line_color="black", line_width=1.7, line_dash="6 3")
    items.append(LegendItem(label="Average", renderers=[proxy]))
    n = len(items)
    leg_h = n * ITEM_H + (n - 1) * ITEM_GAP + 2 * LEG_PAD
    center_from_bottom = FIG_H - (TOP + FRAME_H / 2.0)
    leg = Legend(items=items, location=(1, center_from_bottom - leg_h / 2.0 - LEG_SHIFT),
                 label_text_font=FONT, label_text_font_size=SMALL, label_text_color="#1a1a1a",
                 glyph_width=16, glyph_height=ITEM_H, label_height=ITEM_H, label_standoff=5,
                 spacing=ITEM_GAP, padding=LEG_PAD, margin=0,
                 border_line_color="#cccccc", border_line_width=1,
                 background_fill_color="white", background_fill_alpha=1)
    lf.add_layout(leg, "center")
    return row(p, lf, spacing=0)


def caption(text, width, height, pad_top, pad_left, pad_right):
    html = ('<div style="box-sizing:border-box;width:%dpx;font-family:\'Liberation Serif\',serif;'
            'font-size:29px;line-height:29px;padding:%dpx %dpx 0px %dpx;text-align:center;'
            'white-space:nowrap;color:#000;">%s</div>'
            % (width, pad_top, pad_right, pad_left, text))
    return Div(text=html, width=width, height=height, margin=(0, 0, 0, 0))


# column 1: 388 px, column 2: 388 px, column 3: 387 px
pa = make_panel("Mean EDA vs Window for Underweight, Base", UNDER_SUBJECTS, [seq(a_s11)], seq(a_s11),
                A_TICKS, None, 32, 275, 77)
pb = make_panel("Mean HR vs Window for Underweight, Base", UNDER_SUBJECTS, [seq(b_s11)], seq(b_s11),
                B_TICKS, None, 49, 263, 72)
pc = make_panel("Mean TEMP vs Window for Underweight, Base", UNDER_SUBJECTS, [c_s11], c_s11,
                C_TICKS, "0.0", 57, 262, 64)

pd = make_panel("Mean EDA vs Window for Normal weight, Base", NORMAL_SUBJECTS,
                [d_s10, d_s14, d_s15, d_s16, d_s17, d_s3, d_s5, d_s6, d_s7, d_s8, d_s9], d_avg,
                D_TICKS, None, 32, 275, 77)
pe = make_panel("Mean HR vs Window for Normal weight, Base", NORMAL_SUBJECTS,
                [e_s10, e_s14, e_s15, e_s16, e_s17, e_s3, e_s5, e_s6, e_s7, e_s8, e_s9], e_avg,
                E_TICKS, None, 49, 263, 72)
pf = make_panel("Mean TEMP vs Window for Normal weight, Base", NORMAL_SUBJECTS,
                [f_s10, f_s14, f_s15, f_s16, f_s17, f_s3, f_s5, f_s6, f_s7, f_s8, f_s9], f_avg,
                F_TICKS, None, 49, 270, 64)

pg = make_panel("Mean EDA vs Window for Overweight, Base", OVER_SUBJECTS,
                [seq(g_s13), g_s2, g_s4], g_avg, G_TICKS, None, 37, 270, 77)
ph = make_panel("Mean HR vs Window for Overweight, Base", OVER_SUBJECTS,
                [seq(h_s13), seq(h_s2), seq(h_s4)], seq(h_avg), H_TICKS, None, 49, 263, 72)
pi = make_panel("Mean TEMP vs Window for Overweight, Base", OVER_SUBJECTS,
                [i_s13, i_s2, i_s4], i_avg, I_TICKS, None, 49, 270, 64)

ca = caption("(a) EDA in underweight", 388, 83, 21, 0, 4)
cb = caption("(b) HR in underweight", 388, 83, 21, 0, 5)
cc = caption("(c) TEMP in underweight", 387, 83, 21, 20, 0)
cd = caption("(d) EDA in normal weight", 388, 83, 22, 0, 7)
ce = caption("(e) HR in normal weight", 388, 83, 22, 0, 11)
cf = caption("(f) TEMP in normal weight", 387, 83, 22, 16, 0)
cg = caption("(g) EDA in overweight", 388, 55, 24, 0, 16)
ch = caption("(h) HR in overweight", 388, 55, 24, 0, 16)
ci = caption("(i) TEMP in overweight", 387, 55, 24, 8, 0)

layout = column(
    row(column(pa, ca), column(pb, cb), column(pc, cc)),
    row(column(pd, cd), column(pe, ce), column(pf, cf)),
    row(column(pg, cg), column(ph, ch), column(pi, ci)),
)

open("out.html", "w").write(file_html(layout, INLINE))
